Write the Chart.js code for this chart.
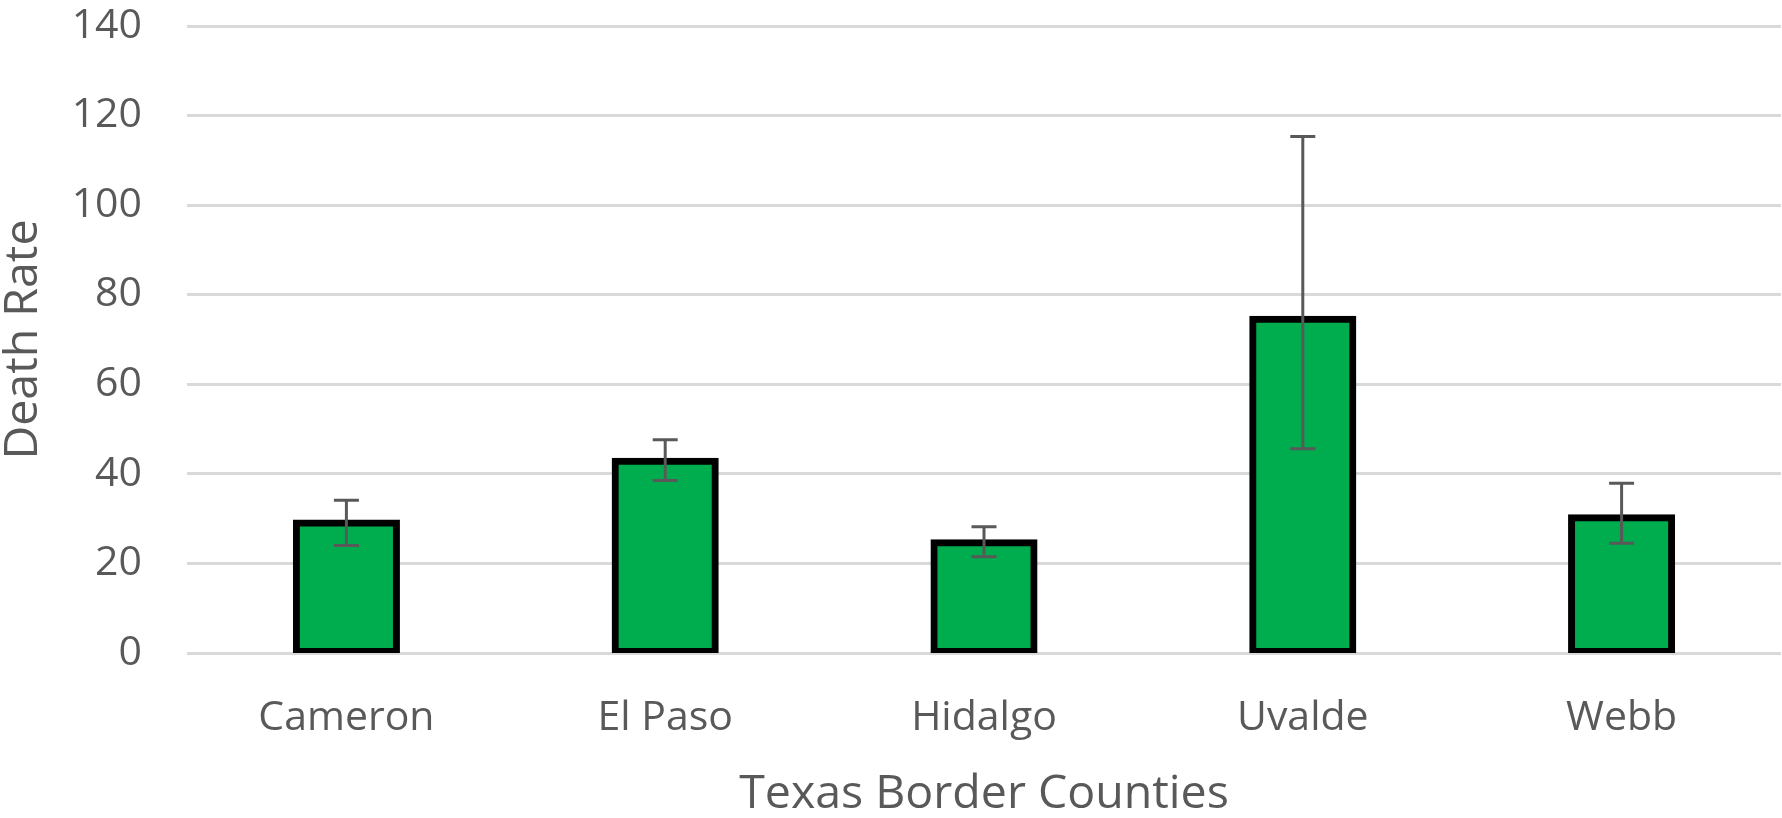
<!DOCTYPE html>
<html>
<head>
<meta charset="utf-8">
<script src="https://cdn.jsdelivr.net/npm/chart.js@4"></script>
<style>
  html, body { margin: 0; padding: 0; background: #fff; }
  #wrap { width: 1782px; height: 818px; }
</style>
</head>
<body>
<div id="wrap"><canvas id="deathChart" width="1782" height="818"></canvas></div>
<script>
const counties = ['Cameron', 'El Paso', 'Hidalgo', 'Uvalde', 'Webb'];
const deathRate = [29.0, 42.8, 24.6, 74.5, 30.2];
const lowerCI = [24.0, 38.5, 21.5, 45.6, 24.5];
const upperCI = [34.1, 47.6, 28.2, 115.3, 37.9];
const yTicks = [0, 20, 40, 60, 80, 100, 120, 140];

const grey = '#595959';

// error bars drawn on top of the bars, positioned with the chart's own scales
const errorBars = {
    id: 'errorBars',
    afterDatasetsDraw(chart) {
        const ctx = chart.ctx;
        const y = chart.scales.y;
        const meta = chart.getDatasetMeta(0);
        ctx.save();
        ctx.strokeStyle = grey;
        ctx.lineWidth = 3;
        meta.data.forEach((bar, i) => {
            const top = y.getPixelForValue(upperCI[i]);
            const bot = y.getPixelForValue(lowerCI[i]);
            ctx.beginPath();
            ctx.moveTo(bar.x, top);
            ctx.lineTo(bar.x, bot);
            ctx.moveTo(bar.x - 12.5, top);
            ctx.lineTo(bar.x + 12.5, top);
            ctx.moveTo(bar.x - 12.5, bot);
            ctx.lineTo(bar.x + 12.5, bot);
            ctx.stroke();
        });
        ctx.restore();
    }
};

new Chart(document.getElementById('deathChart'), {
    type: 'bar',
    data: {
        labels: counties,
        datasets: [{
            data: deathRate,
            backgroundColor: '#00AD4E',
            borderColor: '#000000',
            borderWidth: 7,
            borderSkipped: false,
            inflateAmount: 3.5,
            barPercentage: 0.314,
            categoryPercentage: 1
        }]
    },
    plugins: [errorBars],
    options: {
        responsive: false,
        animation: false,
        layout: { padding: { top: 26, right: 1, left: 0, bottom: 0 } },
        plugins: {
            legend: { display: false },
            tooltip: { enabled: false }
        },
        scales: {
            x: {
                grid: { display: false, drawTicks: false },
                border: { display: false },
                ticks: {
                    color: grey,
                    padding: 41,
                    font: { family: 'Open Sans', size: 41 }
                },
                title: {
                    display: true,
                    text: 'Texas Border Counties',
                    color: grey,
                    padding: 0,
                    font: { family: 'Open Sans', size: 46.5, lineHeight: 1 }
                },
                afterFit(scale) {
                    scale.height = 165;
                    scale.paddingLeft = 0;
                    scale.paddingRight = 0;
                }
            },
            y: {
                min: 0,
                max: 140,
                afterBuildTicks(scale) {
                    scale.ticks = yTicks.map(v => ({ value: v }));
                },
                grid: { color: '#D9D9D9', lineWidth: 3, drawTicks: false },
                border: { display: false },
                ticks: {
                    color: grey,
                    padding: 45,
                    font: { family: 'Open Sans', size: 41 }
                },
                title: {
                    display: true,
                    text: 'Death Rate',
                    color: grey,
                    padding: 0,
                    font: { family: 'Open Sans', size: 46.5, lineHeight: 1 }
                },
                afterFit(scale) {
                    scale.width = 187;
                    scale.paddingTop = 0;
                    scale.paddingBottom = 0;
                }
            }
        }
    }
});
</script>
</body>
</html>
